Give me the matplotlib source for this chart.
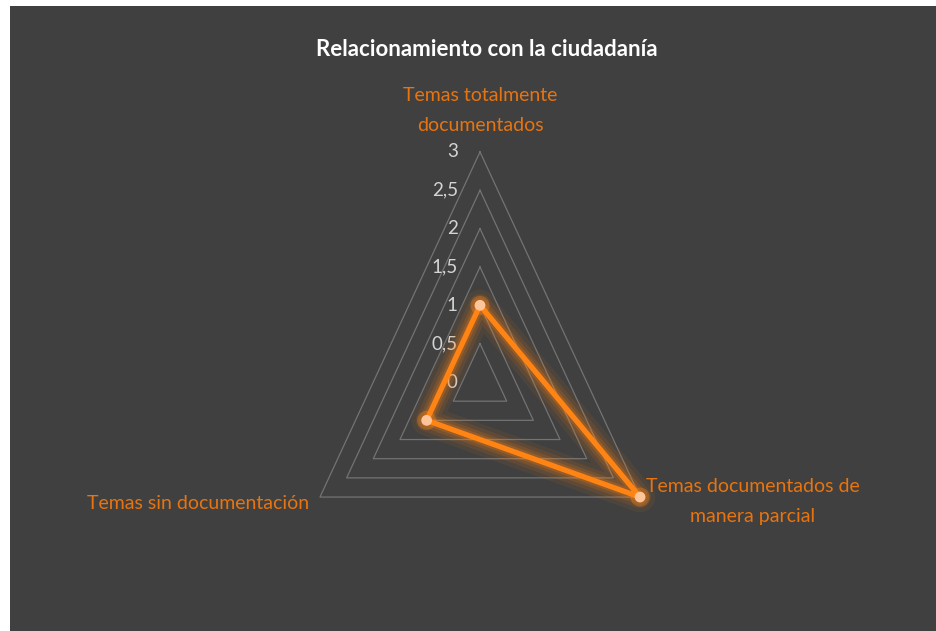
import numpy as np
import matplotlib.pyplot as plt
from matplotlib.patches import Rectangle

# datos del gráfico
categories = ['Temas totalmente\ndocumentados', 'Temas documentados de\nmanera parcial', 'Temas sin documentación']
values = [1, 3, 1]
rings = [0.5, 1, 1.5, 2, 2.5, 3]
tick_values = [0, 0.5, 1, 1.5, 2, 2.5, 3]
tick_labels = ['0', '0,5', '1', '1,5', '2', '2,5', '3']
title = 'Relacionamiento con la ciudadanía'

plt.rcParams['font.family'] = ['Lato', 'DejaVu Sans']

bg = '#404040'
orange = '#ff8413'
label_col = '#e8740f'

# ángulos: arriba, abajo derecha, abajo izquierda
angles = np.pi / 2 - np.arange(len(categories)) * 2 * np.pi / len(categories)


def to_xy(r, ang):
    return np.asarray(r) * np.cos(ang), np.asarray(r) * np.sin(ang)


fig = plt.figure(figsize=(9.36, 6.31), dpi=100, facecolor='white')
fig.patches.append(Rectangle((10 / 936, 0), 1, 625 / 631, transform=fig.transFigure,
                             facecolor=bg, edgecolor='none', zorder=-10))

ax = fig.add_axes([0, 0, 1, 1])
ax.set_facecolor('none')
ax.axis('off')
ax.set_xlim(-480 / 61.6, 456 / 61.6)
ax.set_ylim(-249 / 76.7, 382 / 76.7)

# rejilla triangular
ang_c = np.append(angles, angles[0])
for r in rings:
    gx, gy = to_xy(r, ang_c)
    ax.plot(gx, gy, color='#737373', lw=0.9, zorder=1)

# etiquetas del eje
for v, lab in zip(tick_values, tick_labels):
    ax.text(-0.36, v, lab, ha='right', va='center', color='#d4d4d4', fontsize=13.5, zorder=2)

# serie con resplandor
vals_c = np.append(values, values[0])
px, py = to_xy(vals_c, ang_c)
for lw, a in [(22, 0.07), (16, 0.10), (11, 0.15), (7, 0.22)]:
    ax.plot(px, py, color=orange, lw=lw, alpha=a, solid_joinstyle='round',
            solid_capstyle='round', zorder=3)
ax.plot(px, py, color=orange, lw=3.8, solid_joinstyle='round', zorder=4)
mx, my = to_xy(values, angles)
ax.scatter(mx, my, s=190, color=orange, alpha=0.35, edgecolor='none', zorder=5)
ax.scatter(mx, my, s=60, color='#ffc59a', edgecolor='none', zorder=6)

# etiquetas de categorías
vx, vy = to_xy(3, angles)
ax.annotate(categories[0], (vx[0], vy[0]), xytext=(0, 13), textcoords='offset points',
            ha='center', va='bottom', color=label_col, fontsize=14, linespacing=1.95)
ax.annotate(categories[1], (vx[1], vy[1]), xytext=(4, -3), textcoords='offset points',
            ha='left', va='center', multialignment='center', color=label_col,
            fontsize=14, linespacing=1.95)
ax.annotate(categories[2], (vx[2], vy[2]), xytext=(-8, -5), textcoords='offset points',
            ha='right', va='center', color=label_col, fontsize=14)

fig.text(487 / 936, 1 - 50 / 631, title, ha='center', va='center', color='white',
         fontsize=16, fontweight='bold')

fig.savefig('out.png', dpi=100, facecolor=fig.get_facecolor())
